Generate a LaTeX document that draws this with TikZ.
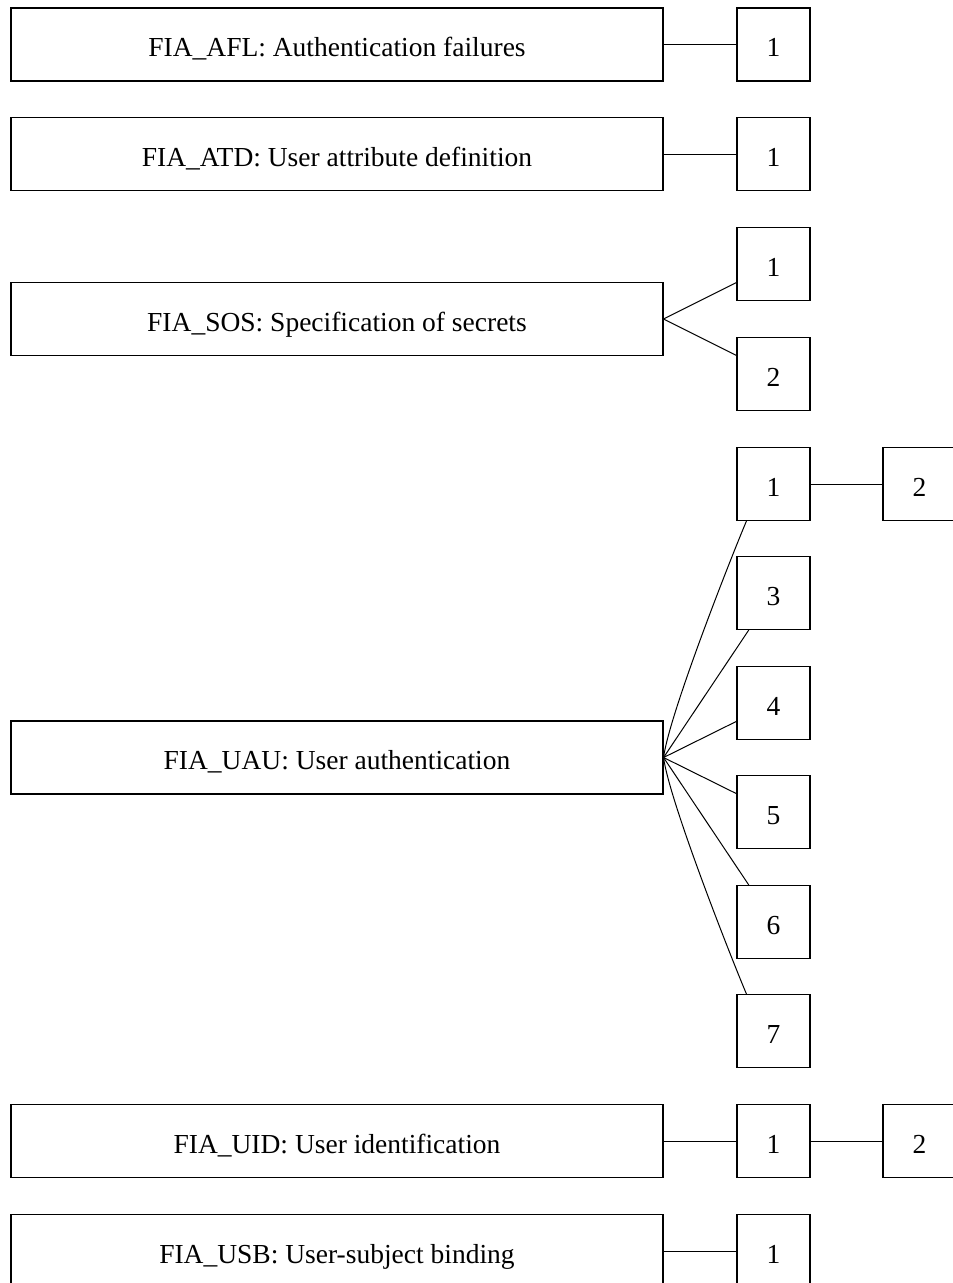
\documentclass[tikz,border=0pt]{standalone}
\usepackage{fontspec}
\setmainfont{Liberation Serif}
\begin{document}
\begin{tikzpicture}[x=1pt,y=-1pt,
  big/.style={draw, line width=1.1pt, minimum width=652pt, minimum height=73pt, inner sep=0pt, text height=24pt, text depth=0pt, font=\fontsize{27.5}{30}\selectfont},
  small/.style={draw, line width=1.1pt, minimum width=73pt, minimum height=73pt, inner sep=0pt, text height=24pt, text depth=0pt, font=\fontsize{27.5}{30}\selectfont},
  conn/.style={line width=1pt}]
\useasboundingbox (0,0) rectangle (953,1283);
\clip (0,0) rectangle (953,1283);
% big boxes
\node[big] (afl) at (337,44.5) {FIA\_AFL: Authentication failures};
\node[big] (atd) at (337,154) {FIA\_ATD: User attribute definition};
\node[big] (sos) at (337,319) {FIA\_SOS: Specification of secrets};
\node[big] (uau) at (337,757.5) {FIA\_UAU: User authentication};
\node[big] (uid) at (337,1141) {FIA\_UID: User identification};
\node[big] (usb) at (337,1251) {FIA\_USB: User-subject binding};
% small boxes
\node[small] (afl1) at (773.5,44.5) {1};
\node[small] (atd1) at (773.5,154) {1};
\node[small] (sos1) at (773.5,264) {1};
\node[small] (sos2) at (773.5,374) {2};
\node[small] (uau1) at (773.5,484) {1};
\node[small] (uau3) at (773.5,593) {3};
\node[small] (uau4) at (773.5,703) {4};
\node[small] (uau5) at (773.5,812) {5};
\node[small] (uau6) at (773.5,922) {6};
\node[small] (uau7) at (773.5,1031) {7};
\node[small] (uid1) at (773.5,1141) {1};
\node[small] (usb1) at (773.5,1251) {1};
\node[small] (uau12) at (919.5,484) {2};
\node[small] (uid12) at (919.5,1141) {2};
% connectors
\draw[conn] (afl) -- (afl1);
\draw[conn] (atd) -- (atd1);
\draw[conn] (sos.east) -- (sos1);
\draw[conn] (sos.east) -- (sos2);
\draw[conn] (uau.east) .. controls +(6,-45) and +(-12,28) .. ([xshift=10pt]uau1.south west);
\draw[conn] (uau.east) -- (uau3);
\draw[conn] (uau.east) -- (uau4);
\draw[conn] (uau.east) -- (uau5);
\draw[conn] (uau.east) -- (uau6);
\draw[conn] (uau.east) .. controls +(6,45) and +(-12,-28) .. ([xshift=10pt]uau7.north west);
\draw[conn] (uau1) -- (uau12);
\draw[conn] (uid) -- (uid1);
\draw[conn] (uid1) -- (uid12);
\draw[conn] (usb) -- (usb1);
\end{tikzpicture}
\end{document}
